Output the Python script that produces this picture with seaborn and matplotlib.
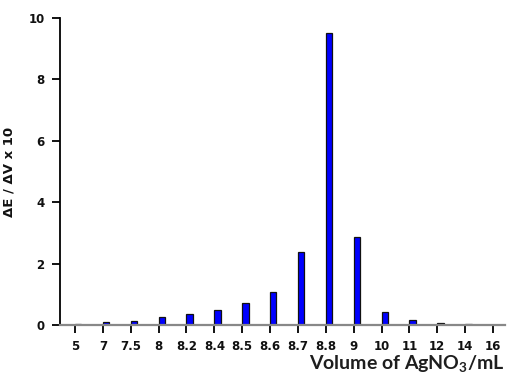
import matplotlib
matplotlib.use("Agg")
import matplotlib.pyplot as plt
import seaborn as sns
import pandas as pd

# Titration data: first-derivative response vs. titrant volume
volumes = ["5", "7", "7.5", "8", "8.2", "8.4", "8.5", "8.6", "8.7", "8.8",
           "9", "10", "11", "12", "14", "16"]
dE_dV = [0.03, 0.09, 0.14, 0.25, 0.36, 0.49, 0.71, 1.08, 2.38, 9.51,
         2.86, 0.43, 0.16, 0.07, 0.02, 0.0]
y_ticks = [0, 2, 4, 6, 8, 10]

df = pd.DataFrame({"volume": volumes, "value": dE_dV})

sns.set_style("white")
plt.rcParams["font.family"] = ["DejaVu Sans"]
plt.rcParams["font.weight"] = "bold"
plt.rcParams["mathtext.fontset"] = "custom"
plt.rcParams["mathtext.rm"] = "Lato:bold"
plt.rcParams["mathtext.it"] = "Lato:bold"
plt.rcParams["mathtext.bf"] = "Lato:bold"

fig = plt.figure(figsize=(5.08, 3.77), dpi=100)
ax = fig.add_axes([0.118, 0.138, 0.876, 0.814])

bar_w = 0.23
sns.barplot(data=df, x="volume", y="value", order=volumes, width=bar_w,
            color="#0000ff", edgecolor="#111111", linewidth=0.9,
            saturation=1, ax=ax)
# place each bar just to the right of its tick
for p in ax.patches:
    p.set_x(p.get_x() + bar_w / 2)

ax.set_xlim(-0.54, 15.43)
ax.set_ylim(0, 10)
tick_font = dict(fontsize=8.5, fontweight="bold", fontfamily="DejaVu Sans",
                 color="#111111")
ax.set_xticks(range(len(volumes)), volumes, **tick_font)
ax.set_yticks(y_ticks, [str(t) for t in y_ticks], **tick_font)

for s in ["top", "right"]:
    ax.spines[s].set_visible(False)
ax.spines["left"].set_color("black")
ax.spines["left"].set_linewidth(1.3)
ax.spines["bottom"].set_color("#888888")
ax.spines["bottom"].set_linewidth(1.6)

ax.tick_params(axis="x", direction="out", length=6, width=1.3, color="black",
               pad=5)
ax.tick_params(axis="y", direction="out", length=6, width=1.3, color="black",
               pad=5)
ax.xaxis.set_ticks_position("bottom")
ax.yaxis.set_ticks_position("left")

ax.set_xlabel("")
ax.set_ylabel("ΔE / ΔV x 10", fontsize=9.5, fontweight="bold",
              fontfamily="DejaVu Sans", color="#111111", labelpad=9)

fig.text(0.994, 0.008, r"Volume of AgNO$_3$/mL", ha="right", va="bottom",
         fontsize=14, fontfamily="Lato", fontweight="bold", color="#1e1e1e")

fig.savefig("out.png", dpi=100)
